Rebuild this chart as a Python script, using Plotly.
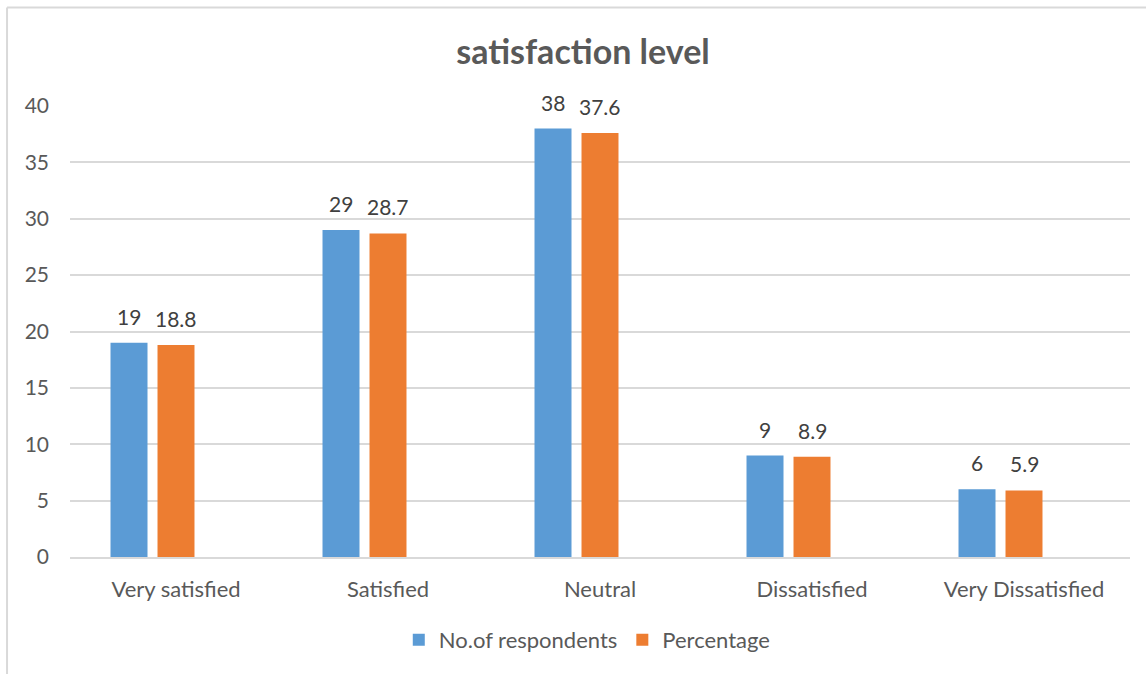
import plotly.graph_objects as go

# Survey results by satisfaction level
categories = ["Very satisfied", "Satisfied", "Neutral", "Dissatisfied", "Very Dissatisfied"]
respondents = [19, 29, 38, 9, 6]
percentage = [18.8, 28.7, 37.6, 8.9, 5.9]
y_ticks = [0, 5, 10, 15, 20, 25, 30, 35, 40]

BLUE = "#5B9BD5"
ORANGE = "#ED7D31"
TEXT = "#595959"
GRID = "#D9D9D9"
FONT = "Lato, Liberation Sans, sans-serif"

fig = go.Figure()
fig.add_trace(go.Bar(x=categories, y=respondents, name="No.of respondents",
                     marker=dict(color=BLUE, line=dict(width=0)), hoverinfo="x+y"))
fig.add_trace(go.Bar(x=categories, y=percentage, name="Percentage",
                     marker=dict(color=ORANGE, line=dict(width=0)), hoverinfo="x+y"))
# empty third slot keeps the two visible bars left of the category centre
fig.add_trace(go.Bar(x=categories, y=[0] * len(categories), name="",
                     marker=dict(color="rgba(0,0,0,0)", line=dict(width=0)),
                     showlegend=False, hoverinfo="skip"))

# value labels above each bar
slot = 1 / 3 * (1 - 0.335)
annotations = []
for i, (a, b) in enumerate(zip(respondents, percentage)):
    for xpos, val in ((i - slot, a), (i, b)):
        annotations.append(dict(x=xpos, y=val, xref="x", yref="y", text=f"{val:g}",
                                showarrow=False, yanchor="bottom", yshift=12,
                                font=dict(family=FONT, size=21, color="#404040")))

fig.update_layout(
    width=1146, height=674,
    margin=dict(l=70, r=16, t=106, b=117),
    paper_bgcolor="white", plot_bgcolor="white",
    barmode="group", bargap=0.335, bargroupgap=0.213,
    font=dict(family=FONT, size=21, color=TEXT),
    title=dict(text="<b>satisfaction level</b>", x=583 / 1146, xanchor="center",
               y=1 - 52 / 674, yanchor="middle",
               font=dict(family=FONT, size=34, color=TEXT)),
    xaxis=dict(showgrid=False, showline=True, linecolor=GRID, linewidth=2,
               ticks="", ticklabelstandoff=12,
               tickfont=dict(family=FONT, size=22, color=TEXT)),
    yaxis=dict(range=[0, 40], tickvals=y_ticks, showgrid=True, gridcolor=GRID,
               gridwidth=2, zeroline=False, showline=False, ticks="",
               ticklabelstandoff=20,
               tickfont=dict(family=FONT, size=21, color=TEXT)),
    legend=dict(orientation="h", x=0.488, xanchor="center", y=-0.184, yanchor="middle",
                font=dict(family=FONT, size=22, color=TEXT),
                itemwidth=30, traceorder="normal"),
    annotations=annotations,
    shapes=[
        dict(type="line", xref="paper", yref="paper", x0=-0.0594, x1=1.02,
             y0=1.2184, y1=1.2184, line=dict(color=GRID, width=2)),
        dict(type="line", xref="paper", yref="paper", x0=-0.0594, x1=-0.0594,
             y0=1.2184, y1=-0.27, line=dict(color=GRID, width=2)),
    ],
)

fig.write_html("out.html")
